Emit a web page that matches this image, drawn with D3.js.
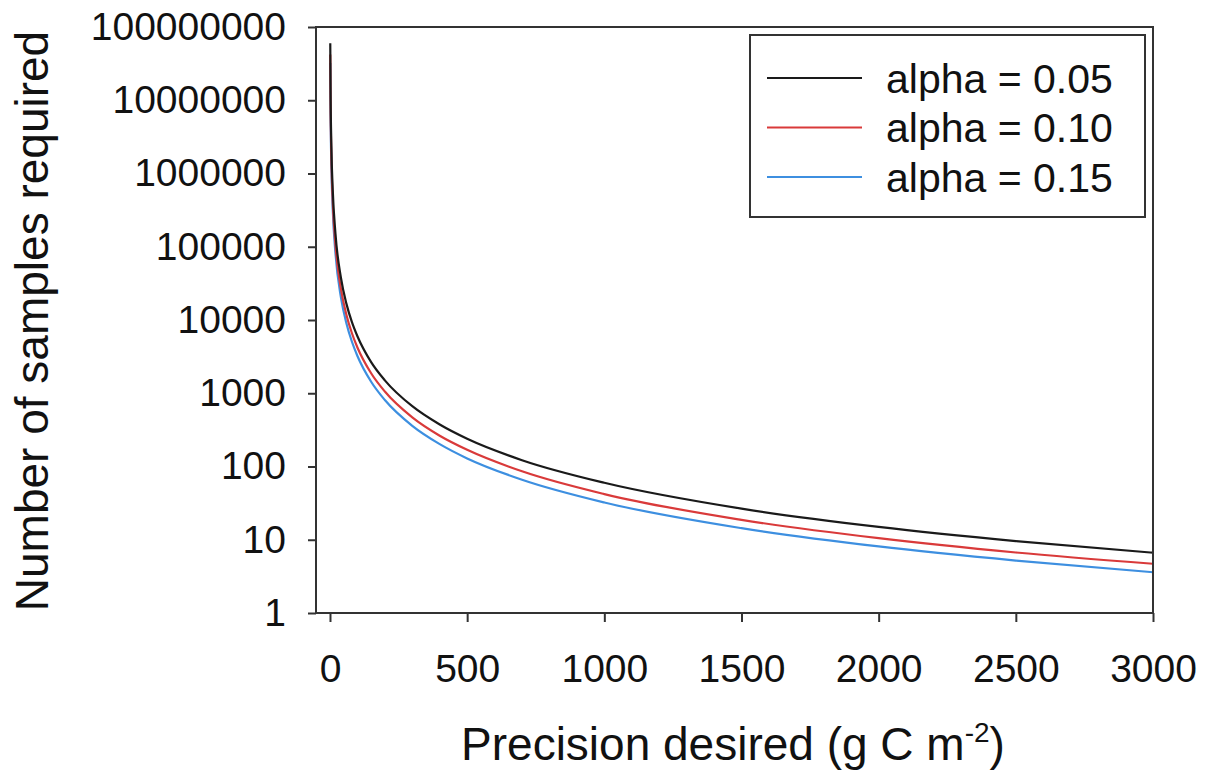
<!DOCTYPE html>
<html>
<head>
<meta charset="utf-8">
<script src="https://cdn.jsdelivr.net/npm/d3@7"></script>
<style>
  html, body { margin: 0; padding: 0; background: #fff; }
  svg { display: block; font-family: "Liberation Sans", Arial, sans-serif; }
</style>
</head>
<body>
<svg id="chart" width="1208" height="775"></svg>
<script>
// Precision desired (g C m-2)
const precision = [1, 2, 5, 10, 20, 40, 60, 80, 100, 150, 200, 300, 400, 500, 700, 1000, 1500, 2000, 2500, 3000];
// Number of samples required, per alpha level
const alpha005 = [60000000, 15000000, 2400000, 600000, 150000, 37400, 16600, 9350, 6000, 2660, 1500, 665, 374, 239, 122, 60, 26.6, 15.0, 9.6, 6.65];
const alpha010 = [42000000, 10500000, 1690000, 420000, 105400, 26350, 11710, 6590, 4216, 1874, 1054, 468, 263, 169, 86, 42, 18.7, 10.5, 6.7, 4.7];
const alpha015 = [32300000, 8080000, 1292000, 323000, 80800, 20200, 8975, 5050, 3230, 1436, 808, 359, 202, 129, 66, 32.3, 14.4, 8.1, 5.2, 3.6];
const seriesNames = ["alpha = 0.05", "alpha = 0.10", "alpha = 0.15"];
const seriesColors = ["#1a1a1a", "#d93a3a", "#3d8fe0"];
const xTicks = [0, 500, 1000, 1500, 2000, 2500, 3000];
const yTicks = [1, 10, 100, 1000, 10000, 100000, 1000000, 10000000, 100000000];

(function () {
const svg = d3.select("#chart");
const pL = 316, pR = 1153, pT = 27, pB = 613;

const x = d3.scaleLinear().domain([-51, 3000]).range([pL, pR]);
const y = d3.scaleLog().domain([1, 100000000]).range([pB, pT]);

const series = [alpha005, alpha010, alpha015].map((vals, i) => ({
  name: seriesNames[i], color: seriesColors[i],
  pts: precision.map((p, j) => [p, vals[j]])
}));

// curves
const line = d3.line().x(d => x(d[0])).y(d => y(d[1])).curve(d3.curveMonotoneX);
svg.append("clipPath").attr("id", "clip").append("rect")
  .attr("x", pL).attr("y", pT).attr("width", pR - pL).attr("height", pB - pT);
svg.append("g").attr("clip-path", "url(#clip)")
  .selectAll("path").data(series.slice().reverse()).join("path")
  .attr("d", d => line(d.pts)).attr("fill", "none")
  .attr("stroke", d => d.color).attr("stroke-width", 2.2);

// frame
svg.append("rect").attr("x", pL).attr("y", pT).attr("width", pR - pL).attr("height", pB - pT)
  .attr("fill", "none").attr("stroke", "#333").attr("stroke-width", 2);

// y axis
const yAxis = d3.axisLeft(y).tickValues(yTicks).tickSize(8).tickPadding(22).tickFormat(d3.format("d"));
const gy = svg.append("g").attr("transform", `translate(${pL},0)`).call(yAxis);
gy.select(".domain").remove();
gy.selectAll(".tick line").attr("stroke", "#333").attr("stroke-width", 2);
gy.selectAll(".tick text").attr("font-size", 39).attr("fill", "#111")
  .attr("font-family", "'Liberation Sans', Arial, sans-serif");

// x axis
const xAxis = d3.axisBottom(x).tickValues(xTicks).tickSize(9).tickPadding(32).tickFormat(d3.format("d"));
const gx = svg.append("g").attr("transform", `translate(0,${pB})`).call(xAxis);
gx.select(".domain").remove();
gx.selectAll(".tick line").attr("stroke", "#333").attr("stroke-width", 2);
gx.selectAll(".tick text").attr("font-size", 39).attr("fill", "#111")
  .attr("font-family", "'Liberation Sans', Arial, sans-serif");

// axis titles
const xt = svg.append("text").attr("x", 733).attr("y", 760).attr("text-anchor", "middle")
  .attr("font-size", 46).attr("fill", "#111");
xt.append("tspan").text("Precision desired (g C m");
xt.append("tspan").attr("font-size", 28).attr("dy", -18).text("-2");
xt.append("tspan").attr("dy", 18).text(")");

svg.append("text").attr("transform", "translate(48,321) rotate(-90)")
  .attr("text-anchor", "middle").attr("font-size", 46).attr("fill", "#111")
  .text("Number of samples required");

// legend
const lg = svg.append("g");
lg.append("rect").attr("x", 750).attr("y", 35).attr("width", 395).attr("height", 182)
  .attr("fill", "#fff").attr("stroke", "#333").attr("stroke-width", 2);
const rowY = d3.scalePoint().domain(seriesNames).range([78, 177]);
const rows = lg.selectAll("g.row").data(series).join("g").attr("class", "row")
  .attr("transform", d => `translate(0,${rowY(d.name)})`);
rows.append("line").attr("x1", 767).attr("x2", 862).attr("y1", 0).attr("y2", 0)
  .attr("stroke", d => d.color).attr("stroke-width", 2);
rows.append("text").attr("x", 886).attr("y", 0).attr("dy", "0.36em")
  .attr("font-size", 41).attr("fill", "#111").text(d => d.name);
})();
</script>
</body>
</html>
